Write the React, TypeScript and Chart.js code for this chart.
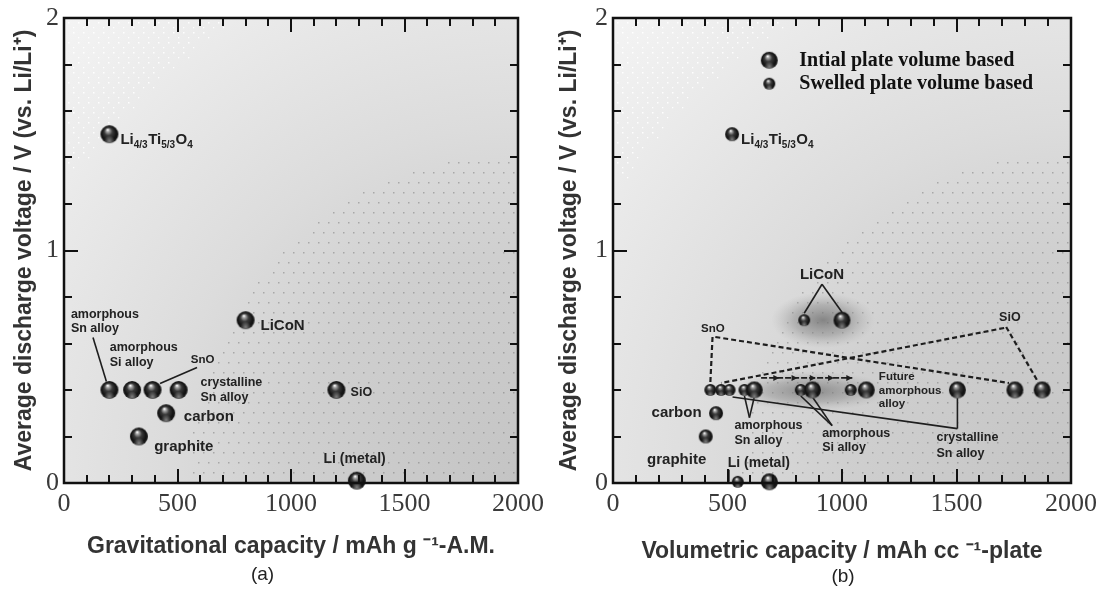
import React, { useEffect, useRef } from 'react';
import { Chart, registerables } from 'chart.js';

Chart.register(...registerables);

// ---------------- Panel (a): gravimetric capacity ----------------
const gravMaterials = ['Li4/3Ti5/3O4', 'amorphous Sn alloy', 'amorphous Si alloy', 'SnO', 'crystalline Sn alloy', 'carbon', 'graphite', 'LiCoN', 'SiO', 'Li (metal)'];
const gravCapacity = [200, 200, 300, 390, 505, 450, 330, 800, 1200, 1290];
const gravVoltage = [1.5, 0.4, 0.4, 0.4, 0.4, 0.3, 0.2, 0.7, 0.4, 0.01];

// ---------------- Panel (b): volumetric capacity ----------------
const volMaterials = ['LiCoN', 'SnO', 'SiO', 'crystalline Sn alloy', 'amorphous Sn alloy', 'amorphous Si alloy', 'Future amorphous alloy', 'Li (metal)'];
const volInitial = [1000, 1755, 1874, 1504, 617, 871, 1106, 683];
const volSwelled = [835, 425, 472, 509, 574, 820, 1038, 545];
const volVoltage = [0.7, 0.4, 0.4, 0.4, 0.4, 0.4, 0.4, 0.005];
const volSingleMaterials = ['Li4/3Ti5/3O4', 'carbon', 'graphite'];
const volSingleCapacity = [520, 450, 405];
const volSingleVoltage = [1.5, 0.3, 0.2];

// ---------------- Axes ----------------
const xTickValues = [0, 500, 1000, 1500, 2000];
const yTickValues = [0, 1, 2];
const xMinorStep = 100;
const yMinorStep = 0.2;
const legendLabels = ['Intial plate volume based', 'Swelled plate volume based'];

// ---------------- helpers ----------------
function makeBall(r: number): HTMLCanvasElement {
  const c = document.createElement('canvas');
  const s = Math.ceil(r * 2 + 2);
  c.width = s;
  c.height = s;
  const g = c.getContext('2d')!;
  const cx = s / 2, cy = s / 2;
  const grad = g.createRadialGradient(cx - r * 0.2, cy - r * 0.5, r * 0.04, cx, cy, r);
  grad.addColorStop(0, '#ffffff');
  grad.addColorStop(0.14, '#a8a8a8');
  grad.addColorStop(0.42, '#3a3a3a');
  grad.addColorStop(0.8, '#121212');
  grad.addColorStop(1, '#1e1e1e');
  g.fillStyle = grad;
  g.beginPath();
  g.arc(cx, cy, r, 0, Math.PI * 2);
  g.fill();
  const g2 = g.createRadialGradient(cx, cy + r * 0.75, 0, cx, cy + r * 0.75, r * 0.6);
  g2.addColorStop(0, 'rgba(200,200,200,0.6)');
  g2.addColorStop(1, 'rgba(200,200,200,0)');
  g.fillStyle = g2;
  g.beginPath();
  g.arc(cx, cy, r, 0, Math.PI * 2);
  g.fill();
  return c;
}

const FONT = '"Liberation Sans", Arial, sans-serif';
const SERIF = '"Liberation Serif", "Times New Roman", serif';
const TXT = '#222';

function drawBackground(chart: any) {
  const { ctx, chartArea: a } = chart;
  ctx.save();
  ctx.beginPath();
  ctx.rect(a.left, a.top, a.right - a.left, a.bottom - a.top);
  ctx.clip();
  const R = Math.hypot(a.right - a.left, a.bottom - a.top);
  const g = ctx.createRadialGradient(a.right, a.bottom, 0, a.right, a.bottom, R);
  g.addColorStop(0, '#c4c4c4');
  g.addColorStop(0.35, '#cfcfcf');
  g.addColorStop(0.55, '#dcdcdc');
  g.addColorStop(0.8, '#e9e9e9');
  g.addColorStop(1, '#f4f4f4');
  ctx.fillStyle = g;
  ctx.fillRect(a.left, a.top, a.right - a.left, a.bottom - a.top);
  let row = 0;
  for (let y = a.top + 4; y < a.bottom; y += 10, row++) {
    for (let x = a.left + 4 + (row % 2) * 5; x < a.right; x += 10) {
      const d = Math.hypot(a.right - x, a.bottom - y);
      if (d < 330) {
        ctx.fillStyle = 'rgba(120,120,120,0.5)';
        ctx.fillRect(x, y, 1.5, 1.5);
      } else if (d > 545) {
        ctx.fillStyle = 'rgba(255,255,255,0.95)';
        ctx.fillRect(x, y, 1.5, 1.5);
        ctx.fillRect(x + 5, y + 5, 1.3, 1.3);
      }
    }
  }
  ctx.restore();
}

function drawFrame(chart: any) {
  const { ctx, chartArea: a, scales } = chart;
  const xs = scales.x, ys = scales.y;
  ctx.save();
  ctx.strokeStyle = '#111';
  ctx.lineWidth = 2;
  const xMin = xTickValues[0], xMax = xTickValues[xTickValues.length - 1];
  const xMajor = xTickValues[1] - xTickValues[0];
  for (let v = xMin; v <= xMax + 1e-6; v += xMinorStep) {
    const p = Math.round(xs.getPixelForValue(v));
    const len = Math.abs(v % xMajor) < 1e-6 ? 14 : 8;
    ctx.beginPath();
    ctx.moveTo(p, a.bottom); ctx.lineTo(p, a.bottom - len);
    ctx.moveTo(p, a.top); ctx.lineTo(p, a.top + len);
    ctx.stroke();
  }
  const yMin = yTickValues[0], yMax = yTickValues[yTickValues.length - 1];
  const yMajor = yTickValues[1] - yTickValues[0];
  const n = Math.round((yMax - yMin) / yMinorStep);
  for (let k = 0; k <= n; k++) {
    const v = yMin + k * yMinorStep;
    const p = Math.round(ys.getPixelForValue(v));
    const r = Math.abs(v / yMajor - Math.round(v / yMajor)) < 1e-6;
    const len = r ? 14 : 8;
    ctx.beginPath();
    ctx.moveTo(a.left, p); ctx.lineTo(a.left + len, p);
    ctx.moveTo(a.right, p); ctx.lineTo(a.right - len, p);
    ctx.stroke();
  }
  ctx.lineWidth = 2.5;
  ctx.strokeRect(a.left, a.top, a.right - a.left, a.bottom - a.top);
  ctx.restore();
}

function text(ctx: any, s: string, x: number, y: number, size: number, align = 'left', weight = 'bold', family = FONT, color = TXT) {
  ctx.font = `${weight} ${size}px ${family}`;
  ctx.textAlign = align;
  ctx.textBaseline = 'middle';
  ctx.fillStyle = color;
  ctx.fillText(s, x, y);
}

function drawLTO(ctx: any, x: number, y: number) {
  const parts: [string, boolean][] = [['Li', false], ['4/3', true], ['Ti', false], ['5/3', true], ['O', false], ['4', true]];
  let cx = x;
  ctx.textAlign = 'left';
  ctx.textBaseline = 'alphabetic';
  ctx.fillStyle = TXT;
  for (const [s, sub] of parts) {
    ctx.font = `bold ${sub ? 10 : 15}px ${FONT}`;
    ctx.fillText(s, cx, sub ? y + 9 : y + 5);
    cx += ctx.measureText(s).width + (sub ? 0.5 : 0);
  }
}

// reference to a plotted point: [datasetIndex, pointIndex]
type Ref = [number, number];
function pt(chart: any, r: Ref) {
  const el = chart.getDatasetMeta(r[0]).data[r[1]];
  return { x: el.x, y: el.y };
}

interface Label { r: Ref; lines: string[]; dx: number; dy: number; size: number; lh?: number; align?: string; lto?: boolean; }
interface Leader { r1: Ref; x1: number; y1: number; r2: Ref; x2: number; y2: number; dashed?: boolean; }

function drawLabels(chart: any, labels: Label[]) {
  const ctx = chart.ctx;
  ctx.save();
  for (const L of labels) {
    const p = pt(chart, L.r);
    if (L.lto) { drawLTO(ctx, p.x + L.dx, p.y + L.dy); continue; }
    L.lines.forEach((s, i) => text(ctx, s, p.x + L.dx, p.y + L.dy + i * (L.lh || 14), L.size, L.align || 'left'));
  }
  ctx.restore();
}

function drawLeaders(chart: any, leaders: Leader[]) {
  const ctx = chart.ctx;
  ctx.save();
  ctx.strokeStyle = '#1e1e1e';
  for (const l of leaders) {
    const a = pt(chart, l.r1), b = pt(chart, l.r2);
    ctx.lineWidth = l.dashed ? 2.2 : 1.6;
    ctx.setLineDash(l.dashed ? [5, 3] : []);
    ctx.beginPath();
    ctx.moveTo(a.x + l.x1, a.y + l.y1);
    ctx.lineTo(b.x + l.x2, b.y + l.y2);
    ctx.stroke();
  }
  ctx.restore();
}

function glow(ctx: any, cx: number, cy: number, rx: number, ry: number, alpha: number) {
  ctx.save();
  ctx.translate(cx, cy);
  ctx.scale(1, ry / rx);
  const g = ctx.createRadialGradient(0, 0, 0, 0, 0, rx);
  g.addColorStop(0, `rgba(105,105,105,${alpha})`);
  g.addColorStop(0.55, `rgba(130,130,130,${alpha * 0.6})`);
  g.addColorStop(1, 'rgba(170,170,170,0)');
  ctx.fillStyle = g;
  ctx.beginPath();
  ctx.arc(0, 0, rx, 0, Math.PI * 2);
  ctx.fill();
  ctx.restore();
}

function axisOptions(yWidth: number, titleTop: number, titleBottom: number, xTitle: string) {
  const tickFont = { family: SERIF, size: 26, lineHeight: 1 };
  const titleFont = { family: FONT, size: 23, weight: 'bold' as const, lineHeight: 1.2 };
  return {
    x: {
      type: 'linear' as const,
      min: xTickValues[0],
      max: xTickValues[xTickValues.length - 1],
      afterBuildTicks: (s: any) => { s.ticks = xTickValues.map((v) => ({ value: v })); },
      ticks: { font: tickFont, color: '#3a3a3a', padding: 8, maxRotation: 0, autoSkip: false, callback: (v: any) => String(v) },
      grid: { display: false, drawTicks: false },
      border: { display: false },
      title: { display: true, text: xTitle, font: titleFont, color: '#333', padding: { top: 0, bottom: titleBottom } },
      afterFit: (s: any) => { s.height = 108; },
    },
    y: {
      type: 'linear' as const,
      min: yTickValues[0],
      max: yTickValues[yTickValues.length - 1],
      afterBuildTicks: (s: any) => { s.ticks = yTickValues.map((v) => ({ value: v })); },
      ticks: { font: tickFont, color: '#3a3a3a', padding: 5, callback: (v: any) => String(v) },
      grid: { display: false, drawTicks: false },
      border: { display: false },
      title: { display: true, text: 'Average discharge voltage / V (vs. Li/Li\u207A)', font: titleFont, color: '#333', padding: { top: titleTop, bottom: 0 } },
      afterFit: (s: any) => { s.width = yWidth; },
    },
  };
}

// ---------------- Panel (a) annotation layout ----------------
const labelsA: Label[] = [
  { r: [0, 0], lines: [], dx: 11, dy: 5, size: 15, lto: true },
  { r: [0, 1], lines: ['amorphous', 'Sn alloy'], dx: -38.5, dy: -75.4, size: 12.5, lh: 14 },
  { r: [0, 2], lines: ['amorphous', 'Si alloy'], dx: -22.4, dy: -42.4, size: 12.5, lh: 14.5 },
  { r: [0, 3], lines: ['SnO'], dx: 38.2, dy: -30.4, size: 11.5 },
  { r: [0, 4], lines: ['crystalline', 'Sn alloy'], dx: 21.8, dy: -7.7, size: 12.5, lh: 15.6 },
  { r: [0, 5], lines: ['carbon'], dx: 17.7, dy: 3.9, size: 15 },
  { r: [0, 6], lines: ['graphite'], dx: 15.3, dy: 10.5, size: 15 },
  { r: [0, 7], lines: ['LiCoN'], dx: 14.9, dy: 5.8, size: 15 },
  { r: [0, 8], lines: ['SiO'], dx: 14.2, dy: 2.3, size: 12.5 },
  { r: [0, 9], lines: ['Li (metal)'], dx: -33.3, dy: -21.7, size: 14 },
];
const leadersA: Leader[] = [
  { r1: [0, 1], x1: -16.4, y1: -52.4, r2: [0, 1], x2: -3, y2: -8.4 },
  { r1: [0, 3], x1: 44.5, y1: -22.4, r2: [0, 3], x2: 7.5, y2: -6.4 },
];

// ---------------- Panel (b) annotation layout ----------------
// dataset 0: initial, 1: swelled, 2: single-valued
const labelsB: Label[] = [
  { r: [2, 0], lines: [], dx: 9, dy: 5, size: 15, lto: true },
  { r: [0, 0], lines: ['LiCoN'], dx: -20, dy: -45.2, size: 15, align: 'center' },
  { r: [1, 1], lines: ['SnO'], dx: 2.5, dy: -61, size: 11.5, align: 'center' },
  { r: [0, 2], lines: ['SiO'], dx: -32.3, dy: -72.7, size: 12.5, align: 'center' },
  { r: [0, 3], lines: ['crystalline', 'Sn alloy'], dx: -20.9, dy: 47.3, size: 12.5, lh: 16 },
  { r: [1, 4], lines: ['amorphous', 'Sn alloy'], dx: -10, dy: 35.6, size: 12.5, lh: 15 },
  { r: [0, 5], lines: ['amorphous', 'Si alloy'], dx: 9.7, dy: 43.3, size: 12.5, lh: 14.5 },
  { r: [0, 6], lines: ['Future', 'amorphous', 'alloy'], dx: 12.6, dy: -12.7, size: 11.5, lh: 13.3 },
  { r: [2, 1], lines: ['carbon'], dx: -14.5, dy: 0, size: 15, align: 'right' },
  { r: [2, 2], lines: ['graphite'], dx: -58.7, dy: 23.8, size: 15 },
  { r: [1, 7], lines: ['Li (metal)'], dx: -10.1, dy: -18.5, size: 14 },
];
const leadersB: Leader[] = [
  { r1: [0, 0], x1: -20, y1: -36, r2: [1, 0], x2: 0, y2: -7 },
  { r1: [0, 0], x1: -20, y1: -36, r2: [0, 0], x2: 0, y2: -8 },
  { r1: [1, 1], x1: 2.2, y1: -53, r2: [1, 1], x2: 0, y2: -7, dashed: true },
  { r1: [1, 1], x1: 5, y1: -53, r2: [0, 1], x2: -6, y2: -7, dashed: true },
  { r1: [0, 2], x1: -36, y1: -63, r2: [0, 2], x2: -4, y2: -8, dashed: true },
  { r1: [0, 2], x1: -38, y1: -62, r2: [1, 2], x2: 0, y2: -7, dashed: true },
  { r1: [0, 3], x1: 0, y1: 8, r2: [0, 3], x2: 0, y2: 38.6 },
  { r1: [0, 3], x1: 0, y1: 38.6, r2: [1, 3], x2: 3, y2: 7 },
  { r1: [1, 4], x1: 0, y1: 6, r2: [1, 4], x2: 5, y2: 27.6 },
  { r1: [0, 4], x1: 0, y1: 7, r2: [1, 4], x2: 5, y2: 27.6 },
  { r1: [1, 5], x1: 0, y1: 6, r2: [0, 5], x2: 19.7, y2: 35.6 },
  { r1: [0, 5], x1: 0, y1: 7, r2: [0, 5], x2: 19.7, y2: 35.6 },
  { r1: [1, 7], x1: -8.9, y1: -12, r2: [1, 7], x2: -8.9, y2: 0 },
];

function drawArrow(chart: any) {
  const ctx = chart.ctx;
  const a = pt(chart, [0, 4]), b = pt(chart, [1, 6]);
  const x1 = a.x + 6.8, x2 = b.x + 1.6, y = a.y - 12.1;
  ctx.save();
  ctx.strokeStyle = '#1e1e1e';
  ctx.fillStyle = '#1e1e1e';
  ctx.lineWidth = 1.8;
  ctx.setLineDash([6, 2]);
  ctx.beginPath(); ctx.moveTo(x1, y); ctx.lineTo(x2, y); ctx.stroke();
  ctx.setLineDash([]);
  const n = 5;
  for (let k = 1; k <= n; k++) {
    const hx = x1 + ((x2 - x1) * k) / n;
    ctx.beginPath();
    ctx.moveTo(hx, y); ctx.lineTo(hx - 6, y - 3); ctx.lineTo(hx - 6, y + 3); ctx.closePath(); ctx.fill();
  }
  ctx.restore();
}

const bigBallA = makeBall(9);
const bigBallB = makeBall(8.5);
const smallBallB = makeBall(6);
const midBallB = makeBall(7);

function configA() {
  const plugin = {
    id: 'decorA',
    beforeDatasetsDraw(chart: any) {
      drawBackground(chart);
      drawLeaders(chart, leadersA);
    },
    afterDatasetsDraw(chart: any) {
      drawFrame(chart);
      drawLabels(chart, labelsA);
      const a = chart.chartArea;
      text(chart.ctx, '(a)', a.left + 198.5, a.bottom + 92, 19, 'center', 'normal', FONT, '#222');
    },
  };
  return {
    type: 'scatter' as const,
    data: {
      datasets: [{
        label: 'Gravitational capacity',
        data: gravCapacity.map((x, i) => ({ x, y: gravVoltage[i], name: gravMaterials[i] })),
        pointStyle: bigBallA, pointRadius: 9, clip: false as const,
      }],
    },
    options: {
      responsive: false, animation: false as const,
      layout: { padding: { top: 15, right: 29, left: 0, bottom: 0 } },
      plugins: { legend: { display: false }, tooltip: { enabled: false } },
      scales: axisOptions(64, 11.2, 30.2, 'Gravitational capacity / mAh g \u207B\u00B9-A.M.'),
    },
    plugins: [plugin],
  };
}

function configB() {
  const plugin = {
    id: 'decorB',
    beforeDatasetsDraw(chart: any) {
      drawBackground(chart);
      const ctx = chart.ctx;
      const l1 = pt(chart, [1, 0]), l2 = pt(chart, [0, 0]);
      glow(ctx, (l1.x + l2.x) / 2, (l1.y + l2.y) / 2, 52, 28, 0.75);
      const r = pt(chart, [0, 5]);
      glow(ctx, r.x - 2, r.y + 1, 80, 20, 0.7);
      drawLeaders(chart, leadersB);
      drawArrow(chart);
    },
    afterDatasetsDraw(chart: any) {
      drawFrame(chart);
      drawLabels(chart, labelsB);
      const ctx = chart.ctx;
      const a = chart.chartArea;
      const lx = a.left + 156.3, ly = a.top + 42.3;
      ctx.drawImage(bigBallB, lx - bigBallB.width / 2, ly - bigBallB.height / 2);
      ctx.drawImage(smallBallB, lx - smallBallB.width / 2, ly + 23.4 - smallBallB.height / 2);
      text(ctx, legendLabels[0], lx + 30, ly + 1, 20, 'left', 'bold', SERIF, '#111');
      text(ctx, legendLabels[1], lx + 30, ly + 24, 20, 'left', 'bold', SERIF, '#111');
      text(ctx, '(b)', a.left + 230, a.bottom + 94, 19, 'center', 'normal', FONT, '#222');
    },
  };
  return {
    type: 'scatter' as const,
    data: {
      datasets: [
        {
          label: legendLabels[0],
          data: volInitial.map((x, i) => ({ x, y: volVoltage[i], name: volMaterials[i] })),
          pointStyle: bigBallB, pointRadius: 8.5, clip: false as const,
        },
        {
          label: legendLabels[1],
          data: volSwelled.map((x, i) => ({ x, y: volVoltage[i], name: volMaterials[i] })),
          pointStyle: smallBallB, pointRadius: 6, clip: false as const,
        },
        {
          label: 'single',
          data: volSingleCapacity.map((x, i) => ({ x, y: volSingleVoltage[i], name: volSingleMaterials[i] })),
          pointStyle: midBallB, pointRadius: 7, clip: false as const,
        },
      ],
    },
    options: {
      responsive: false, animation: false as const,
      layout: { padding: { top: 15, right: 32, left: 0, bottom: 0 } },
      plugins: { legend: { display: false }, tooltip: { enabled: false } },
      scales: axisOptions(61, 4.2, 25.5, 'Volumetric capacity / mAh cc \u207B\u00B9-plate'),
    },
    plugins: [plugin],
  };
}

function Panel({ make, left, width }: { make: () => any; left: number; width: number }) {
  const ref = useRef<HTMLCanvasElement>(null);
  useEffect(() => {
    const chart = new Chart(ref.current as HTMLCanvasElement, make());
    return () => chart.destroy();
  }, []);
  return (
    <canvas
      ref={ref}
      width={width}
      height={591}
      style={{ position: 'absolute', left, top: 0, width, height: 591, display: 'block' }}
    />
  );
}

export default function App() {
  return (
    <div style={{ position: 'absolute', left: 0, top: 0, width: 1105, height: 591, background: '#fff', overflow: 'hidden' }}>
      <Panel make={configA} left={0} width={552} />
      <Panel make={configB} left={552} width={553} />
    </div>
  );
}
